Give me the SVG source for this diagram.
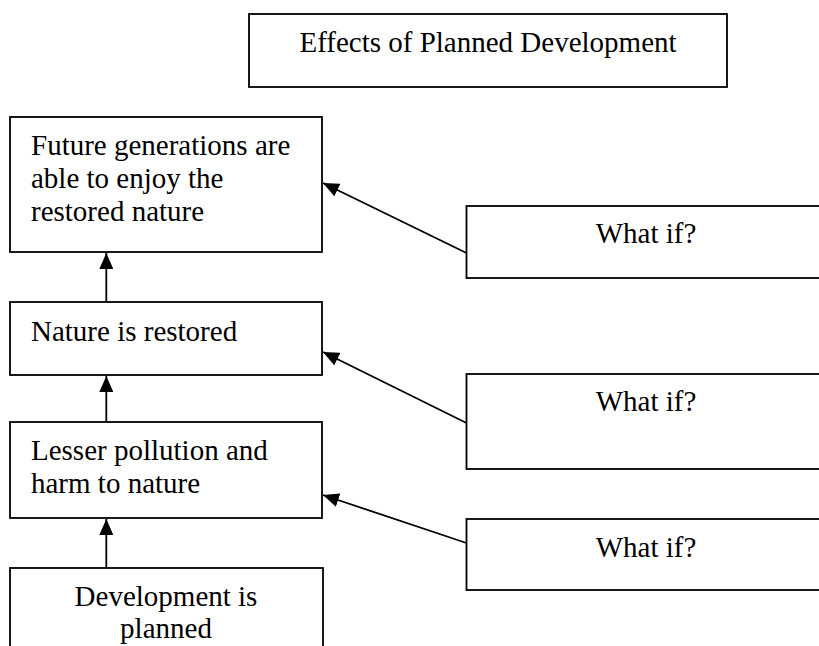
<svg xmlns="http://www.w3.org/2000/svg" width="819" height="646" viewBox="0 0 819 646">
<defs>
<style>
.box{fill:#fff;stroke:#000;stroke-width:1.8}
.t{font-family:"Liberation Serif","Times New Roman",serif;font-size:29px;fill:#000}
.c{text-anchor:middle}
.con{stroke:#000;stroke-width:1.8;fill:none;marker-end:url(#ah)}
</style>
<marker id="ah" viewBox="0 0 16 14" refX="16" refY="7" markerWidth="16" markerHeight="14" orient="auto" markerUnits="userSpaceOnUse">
<path d="M0,0 L16,7 L0,14 z" fill="#000"/>
</marker>
</defs>
<rect width="819" height="646" fill="#fff"/>
<g id="title">
<rect class="box" x="249" y="14" width="478" height="73"/>
<text class="t c" x="488" y="52">Effects of Planned Development</text>
</g>
<g id="n1">
<rect class="box" x="10" y="117" width="312" height="135"/>
<text class="t" x="31" y="155">Future generations are</text>
<text class="t" x="31" y="188">able to enjoy the</text>
<text class="t" x="31" y="221">restored nature</text>
</g>
<g id="n2">
<rect class="box" x="10" y="302" width="312" height="73"/>
<text class="t" x="31" y="341">Nature is restored</text>
</g>
<g id="n3">
<rect class="box" x="10" y="422" width="312" height="96"/>
<text class="t" x="31" y="460">Lesser pollution and</text>
<text class="t" x="31" y="493">harm to nature</text>
</g>
<g id="n4">
<rect class="box" x="10" y="568" width="313" height="90"/>
<text class="t c" x="166" y="606">Development is</text>
<text class="t c" x="166" y="638">planned</text>
</g>
<g id="w1">
<rect class="box" x="466.5" y="206" width="360" height="72"/>
<text class="t c" x="646" y="243">What if?</text>
</g>
<g id="w2">
<rect class="box" x="466.5" y="374" width="360" height="95"/>
<text class="t c" x="646" y="411">What if?</text>
</g>
<g id="w3">
<rect class="box" x="466.5" y="519" width="360" height="71"/>
<text class="t c" x="646" y="557">What if?</text>
</g>
<g id="connectors">
<line class="con" x1="106.3" y1="302" x2="106.3" y2="253"/>
<line class="con" x1="106.3" y1="422" x2="106.3" y2="376"/>
<line class="con" x1="106.3" y1="568" x2="106.3" y2="519"/>
<line class="con" x1="466.5" y1="253" x2="323" y2="183"/>
<line class="con" x1="466.5" y1="423" x2="323" y2="352"/>
<line class="con" x1="466.5" y1="543" x2="323" y2="495"/>
</g>
</svg>
